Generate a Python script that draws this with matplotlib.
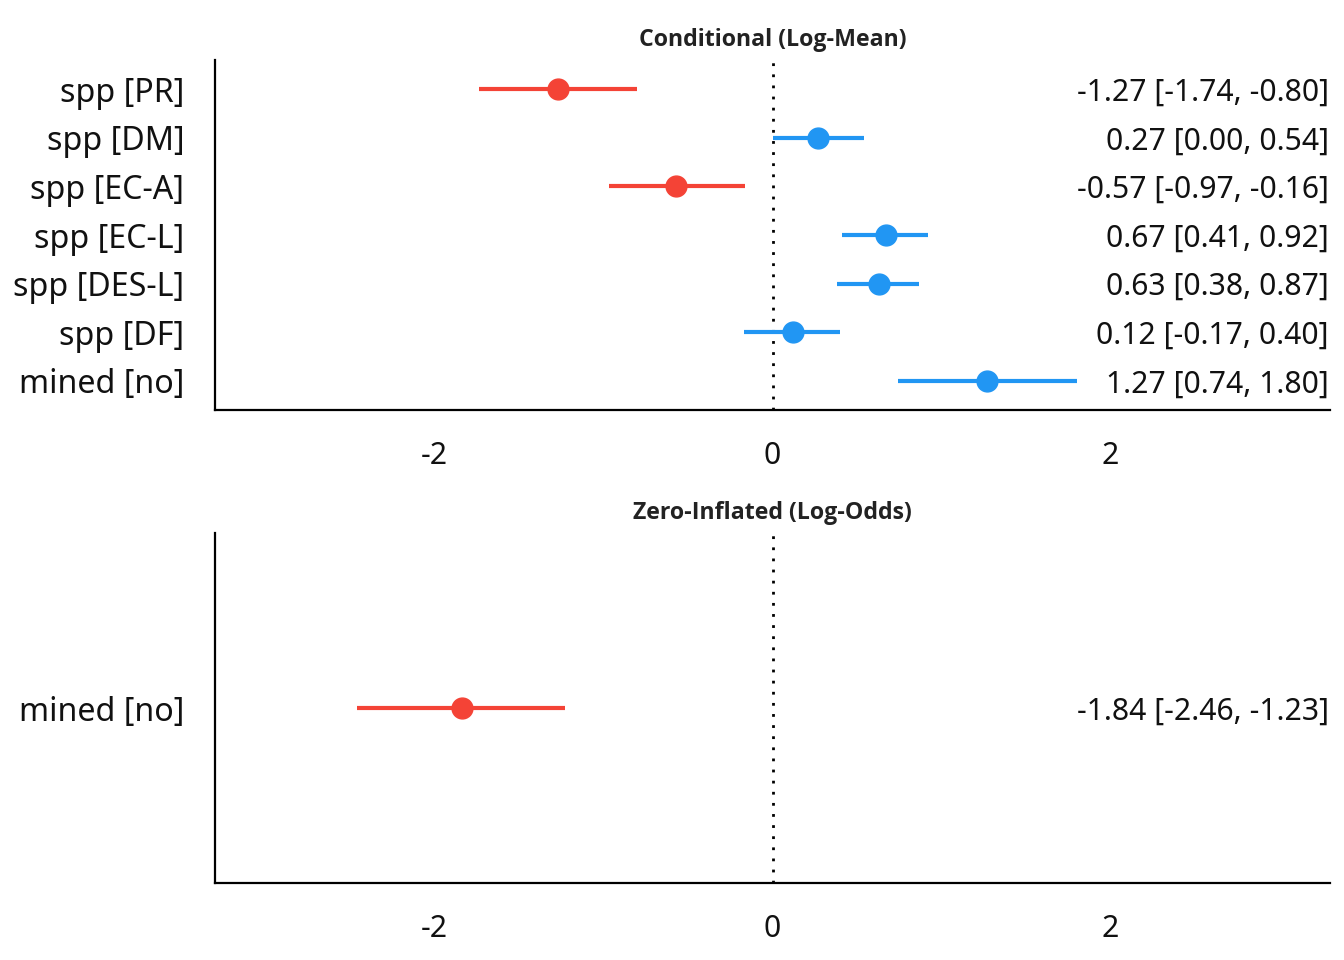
import matplotlib
matplotlib.use('Agg')
import matplotlib.pyplot as plt
import matplotlib.transforms as mtransforms

plt.rcParams['font.family'] = ['Noto Sans', 'DejaVu Sans']

# Conditional model (log-mean)
cond_terms = ['spp [PR]', 'spp [DM]', 'spp [EC-A]', 'spp [EC-L]', 'spp [DES-L]', 'spp [DF]', 'mined [no]']
cond_est = [-1.27, 0.27, -0.57, 0.67, 0.63, 0.12, 1.27]
cond_low = [-1.74, 0.00, -0.97, 0.41, 0.38, -0.17, 0.74]
cond_high = [-0.80, 0.54, -0.16, 0.92, 0.87, 0.40, 1.80]

# Zero-inflated model (log-odds)
zi_terms = ['mined [no]']
zi_est = [-1.84]
zi_low = [-2.46]
zi_high = [-1.23]

RED = '#F44336'
BLUE = '#2196F3'

fig = plt.figure(figsize=(13.44, 9.6), dpi=100)
ax1 = fig.add_axes([215 / 1344, 550 / 960, 1115 / 1344, 350 / 960])
ax2 = fig.add_axes([215 / 1344, 77 / 960, 1115 / 1344, 350 / 960])


def draw_panel(ax, terms, est, low, high, title, ylim):
    n = len(terms)
    ys = list(range(n, 0, -1))
    ax.axvline(0, color='black', linestyle=(0, (1, 3)), linewidth=2, zorder=1)
    trans = mtransforms.blended_transform_factory(ax.transAxes, ax.transData)
    for y, e, lo, hi in zip(ys, est, low, high):
        col = BLUE if e > 0 else RED
        ax.plot([lo, hi], [y, y], color=col, linewidth=3, solid_capstyle='butt', zorder=2)
        ax.plot(e, y, 'o', color=col, markersize=15, zorder=3)
        ax.text(0.999, y, f'{e:.2f} [{lo:.2f}, {hi:.2f}]', transform=trans,
                ha='right', va='center_baseline', fontsize=21.7, color='#111111')
    ax.set_yticks(ys)
    ax.set_yticklabels(terms, va='center_baseline')
    ax.set_xlim(-3.3, 3.3)
    ax.set_ylim(*ylim)
    ax.set_xticks([-2, 0, 2])
    ax.set_xticklabels(['-2', '0', '2'])
    ax.tick_params(axis='both', length=0, colors='#111111')
    ax.tick_params(axis='y', pad=22, labelsize=23.2)
    ax.tick_params(axis='x', pad=22, labelsize=21.7)
    for side in ['top', 'right']:
        ax.spines[side].set_visible(False)
    for side in ['left', 'bottom']:
        ax.spines[side].set_linewidth(1.6)
        ax.spines[side].set_color('black')
    ax.set_title(title, fontsize=16.7, fontweight='bold', color='#222222', pad=10,
                 family=['Open Sans', 'DejaVu Sans'])


draw_panel(ax1, cond_terms, cond_est, cond_low, cond_high, 'Conditional (Log-Mean)', (0.4, 7.6))
draw_panel(ax2, zi_terms, zi_est, zi_low, zi_high, 'Zero-Inflated (Log-Odds)', (0.4, 1.6))

fig.savefig('out.png', dpi=100)
